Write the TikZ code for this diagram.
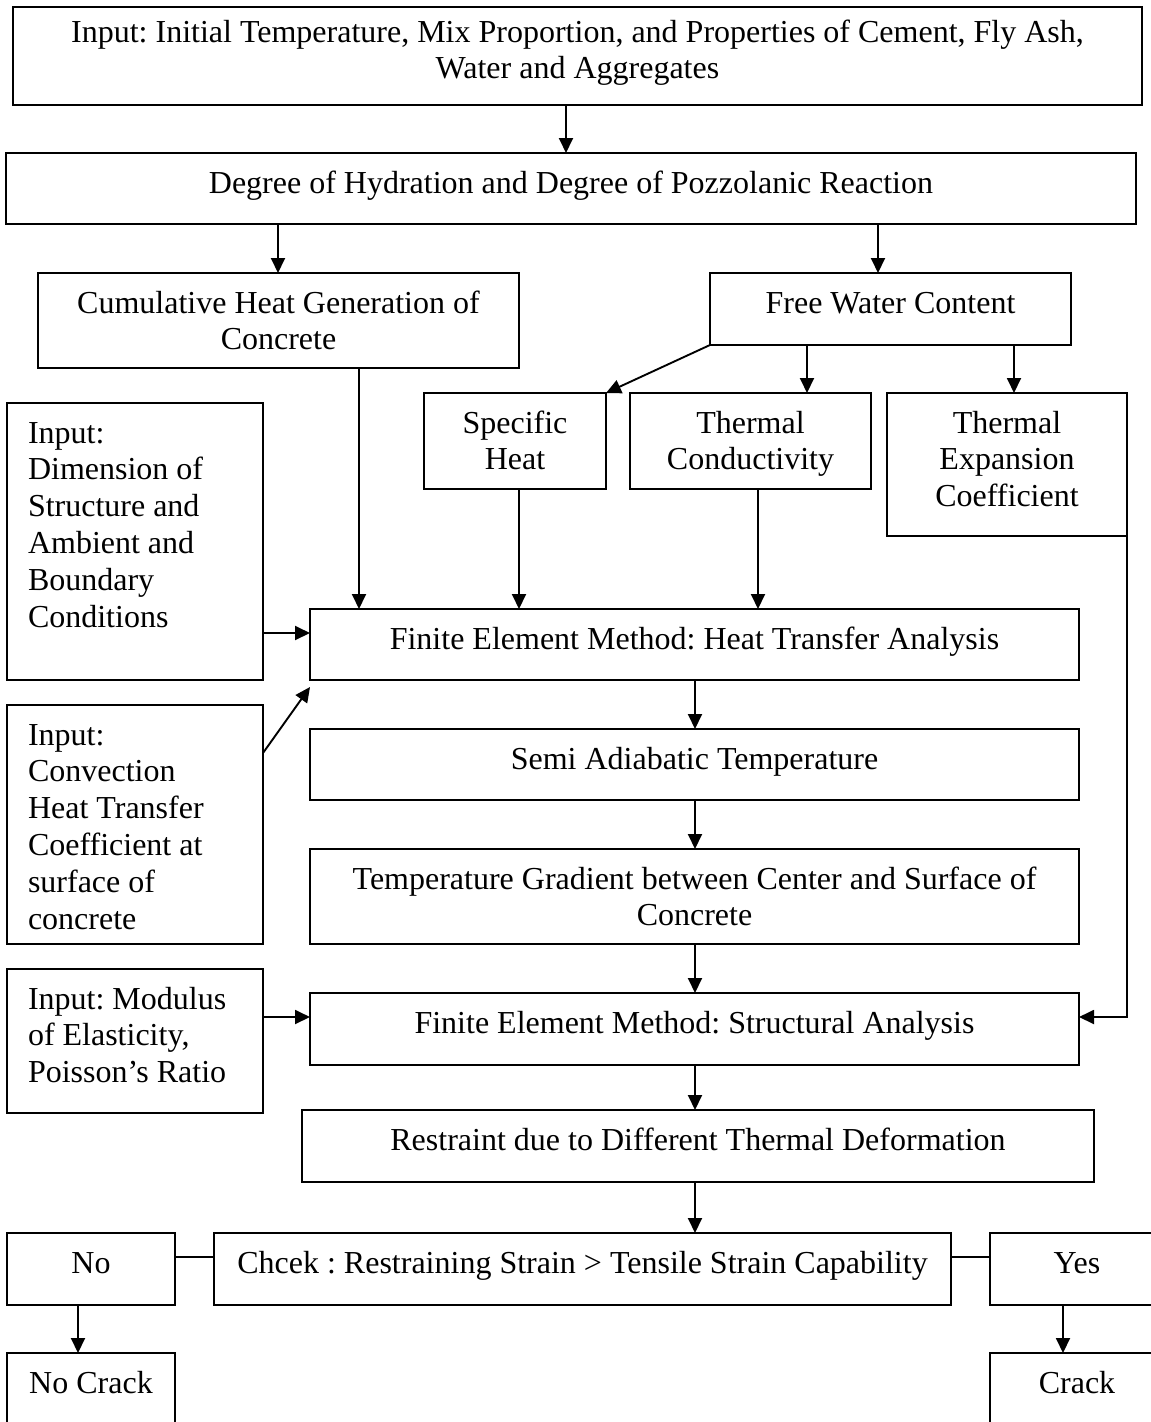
\documentclass[tikz,border=0pt]{standalone}
\usepackage{fontspec}
\setmainfont{Liberation Serif}
\usetikzlibrary{arrows.meta}
\frenchspacing

% centred text box: [first baseline] {width} {height} {text}
\newcommand\ctrtext[4][40]{\parbox[c][#3pt][t]{#2pt}{\centering\rule{0pt}{#1pt}#4\par}}
% left aligned text box: {width} {height} {text}
\newcommand\lfttext[3]{\parbox[c][#2pt][t]{#1pt}{\raggedright\leftskip=21pt\rule{0pt}{40pt}#3\par}}

\begin{document}
\begin{tikzpicture}[x=1pt,y=-1pt,
  box/.style={draw, line width=1.9pt, inner sep=0pt, outer sep=0pt,
              font=\fontsize{32}{36.8}\selectfont},
  link/.style={line width=1.9pt},
  arr/.style={link, -{Triangle[length=15pt,width=14pt]}}]

\useasboundingbox (0,0) rectangle (1151,1422);
\clip (0,0) rectangle (1151,1422);

% boxes
\node[box] (top) at (577.5,56) {\ctrtext[35]{1129}{98}{Input: Initial Temperature, Mix Proportion, and Properties of Cement, Fly Ash,\\Water and Aggregates}};
\node[box] (deg) at (571,188.5) {\ctrtext{1130}{71}{Degree of Hydration and Degree of Pozzolanic Reaction}};
\node[box] (cum) at (278.5,320.5) {\ctrtext{481}{95}{Cumulative Heat Generation of\\Concrete}};
\node[box] (free) at (890.5,309) {\ctrtext{361}{72}{Free Water Content}};
\node[box] (spec) at (515,441) {\ctrtext{182}{96}{Specific\\Heat}};
\node[box] (cond) at (750.5,441) {\ctrtext{241}{96}{Thermal\\Conductivity}};
\node[box] (exp) at (1007,464.5) {\ctrtext{240}{143}{Thermal\\Expansion\\Coefficient}};
\node[box] (dim) at (135,541.5) {\lfttext{256}{277}{Input:\\Dimension of\\Structure and\\Ambient and\\Boundary\\Conditions}};
\node[box] (feh) at (694.5,644.5) {\ctrtext{769}{71}{Finite Element Method: Heat Transfer Analysis}};
\node[box] (conv) at (135,824.5) {\lfttext{256}{239}{Input:\\Convection\\Heat Transfer\\Coefficient at\\surface of\\concrete}};
\node[box] (semi) at (694.5,764.5) {\ctrtext{769}{71}{Semi Adiabatic Temperature}};
\node[box] (grad) at (694.5,896.5) {\ctrtext{769}{95}{Temperature Gradient between Center and Surface of\\Concrete}};
\node[box] (mod) at (135,1041) {\lfttext{256}{144}{Input: Modulus\\of Elasticity,\\Poisson’s Ratio}};
\node[box] (fes) at (694.5,1029) {\ctrtext{769}{72}{Finite Element Method: Structural Analysis}};
\node[box] (rest) at (698,1146) {\ctrtext{792}{72}{Restraint due to Different Thermal Deformation}};
\node[box] (check) at (582.5,1269) {\ctrtext{737}{72}{Chcek : Restraining Strain > Tensile Strain Capability}};
\node[box] (no) at (91,1269) {\ctrtext{168}{72}{No}};
\node[box] (yes) at (1077,1269) {\ctrtext{174}{72}{Yes}};
\node[box] (nocrack) at (91,1389) {\ctrtext{168}{72}{No Crack}};
\node[box] (crack) at (1077,1389) {\ctrtext{174}{72}{Crack}};

% connector columns and rows
\coordinate (c566) at (566,0);
\coordinate (c278) at (278,0);
\coordinate (c878) at (878,0);
\coordinate (c807) at (807,0);
\coordinate (c1014) at (1014,0);
\coordinate (c359) at (359,0);
\coordinate (c519) at (519,0);
\coordinate (c758) at (758,0);
\coordinate (c695) at (695,0);
\coordinate (c78) at (78,0);
\coordinate (c1063) at (1063,0);
\coordinate (r633) at (0,633);
\coordinate (r753) at (0,753);
\coordinate (r1017) at (0,1017);
\coordinate (r1257) at (0,1257);

% connectors
\draw[arr] (top.south -| c566) -- (deg.north -| c566);
\draw[arr] (deg.south -| c278) -- (cum.north -| c278);
\draw[arr] (deg.south -| c878) -- (free.north -| c878);
\draw[arr] (free.south west) -- (spec.north east);
\draw[arr] (free.south -| c807) -- (cond.north -| c807);
\draw[arr] (free.south -| c1014) -- (exp.north -| c1014);
\draw[arr] (cum.south -| c359) -- (feh.north -| c359);
\draw[arr] (spec.south -| c519) -- (feh.north -| c519);
\draw[arr] (cond.south -| c758) -- (feh.north -| c758);
\draw[arr] (dim.east |- r633) -- (feh.west |- r633);
\draw[arr] (conv.east |- r753) -- ([yshift=-7pt]feh.south west);
\draw[arr] (feh.south -| c695) -- (semi.north -| c695);
\draw[arr] (semi.south -| c695) -- (grad.north -| c695);
\draw[arr] (grad.south -| c695) -- (fes.north -| c695);
\draw[arr] (mod.east |- r1017) -- (fes.west |- r1017);
\draw[arr] (exp.south east) -- (exp.south east |- r1017) -- (fes.east |- r1017);
\draw[arr] (fes.south -| c695) -- (rest.north -| c695);
\draw[arr] (rest.south -| c695) -- (check.north -| c695);
\draw[link] (no.east |- r1257) -- (check.west |- r1257);
\draw[link] (check.east |- r1257) -- (yes.west |- r1257);
\draw[arr] (no.south -| c78) -- (nocrack.north -| c78);
\draw[arr] (yes.south -| c1063) -- (crack.north -| c1063);
\end{tikzpicture}
\end{document}
